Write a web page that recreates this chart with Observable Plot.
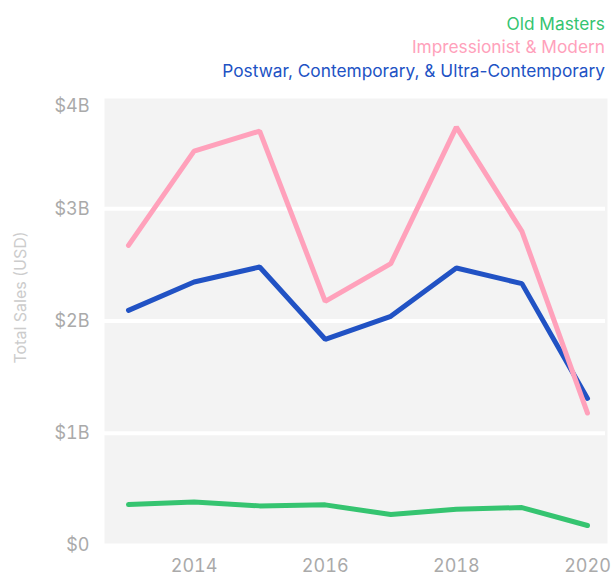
<!DOCTYPE html>
<html><head><meta charset="utf-8">
<script src="https://cdn.jsdelivr.net/npm/d3@7"></script>
<script src="https://cdn.jsdelivr.net/npm/@observablehq/plot@0.6"></script>
<style>
body{margin:0;background:#fff;}
#wrap{position:relative;width:612px;height:575px;font-family:Inter,sans-serif;}
#legend{position:absolute;right:7px;top:12px;text-align:right;font-size:17.3px;line-height:23.3px;white-space:nowrap;}
#wrap svg{display:block;}
</style></head><body><div id="wrap"><div id="legend"></div></div>
<script>
const years = [2013, 2014, 2015, 2016, 2017, 2018, 2019, 2020];
const seriesNames = ["Old Masters", "Impressionist & Modern", "Postwar, Contemporary, & Ultra-Contemporary"];
const oldMasters = [0.365, 0.388, 0.353, 0.362, 0.276, 0.323, 0.338, 0.178];
const impressionist = [2.674, 3.514, 3.692, 2.175, 2.511, 3.727, 2.799, 1.18];
const postwar = [2.095, 2.347, 2.481, 1.837, 2.042, 2.472, 2.333, 1.31];
const seriesColors = ["#35c470", "#ffa1bb", "#2152c4"];
const yTicksMain = [0, 1, 2, 3];
const yTicksTop = [4];
const gridTicks = [1, 2, 3];
const xTicks = [2014, 2016, 2018, 2020];
const yTitle = "Total Sales (USD)";

const toRows = (vals) => years.map((y, i) => ({year: y, value: vals[i]}));
const fmt = d => d === 0 ? "$0" : `$${d}B`;

const legend = document.getElementById("legend");
seriesNames.forEach((n, i) => {
  const div = document.createElement("div");
  div.textContent = n;
  div.style.color = seriesColors[i];
  legend.appendChild(div);
});

const lineStyle = {strokeWidth: 5, strokeLinecap: "round", strokeLinejoin: "miter"};

const chart = Plot.plot({
  width: 612,
  height: 575,
  marginLeft: 104,
  marginRight: 5,
  marginTop: 96,
  marginBottom: 30,
  style: {fontFamily: "Inter, sans-serif", background: "transparent"},
  x: {domain: [2013, 2020], insetLeft: 24, insetRight: 20},
  y: {domain: [0, 4]},
  marks: [
    Plot.frame({fill: "#f3f3f3", stroke: null, insetTop: 2, insetBottom: 2}),
    Plot.ruleY(gridTicks, {stroke: "#ffffff", strokeWidth: 4, insetRight: 2}),
    Plot.axisY(yTicksMain, {tickSize: 0, tickPadding: 15, tickFormat: fmt, fontSize: 18, fill: "#aaaaaa", label: null}),
    Plot.axisY(yTicksTop, {tickSize: 0, tickPadding: 15, tickFormat: fmt, fontSize: 18, fill: "#aaaaaa", label: null, dy: 10}),
    Plot.axisX(xTicks, {tickSize: 0, tickPadding: 14, tickFormat: d => String(d), fontSize: 18, fill: "#aaaaaa", label: null}),
    Plot.text([yTitle], {text: d => d, frameAnchor: "left", textAnchor: "middle", rotate: -90, dx: -84, dy: -23.5, fontSize: 16, fill: "#cccccc"}),
    Plot.line(toRows(oldMasters), {x: "year", y: "value", stroke: seriesColors[0], ...lineStyle}),
    Plot.line(toRows(postwar), {x: "year", y: "value", stroke: seriesColors[2], ...lineStyle}),
    Plot.line(toRows(impressionist), {x: "year", y: "value", stroke: seriesColors[1], ...lineStyle})
  ]
});
document.getElementById("wrap").insertBefore(chart, document.getElementById("legend"));
</script>
</body></html>
